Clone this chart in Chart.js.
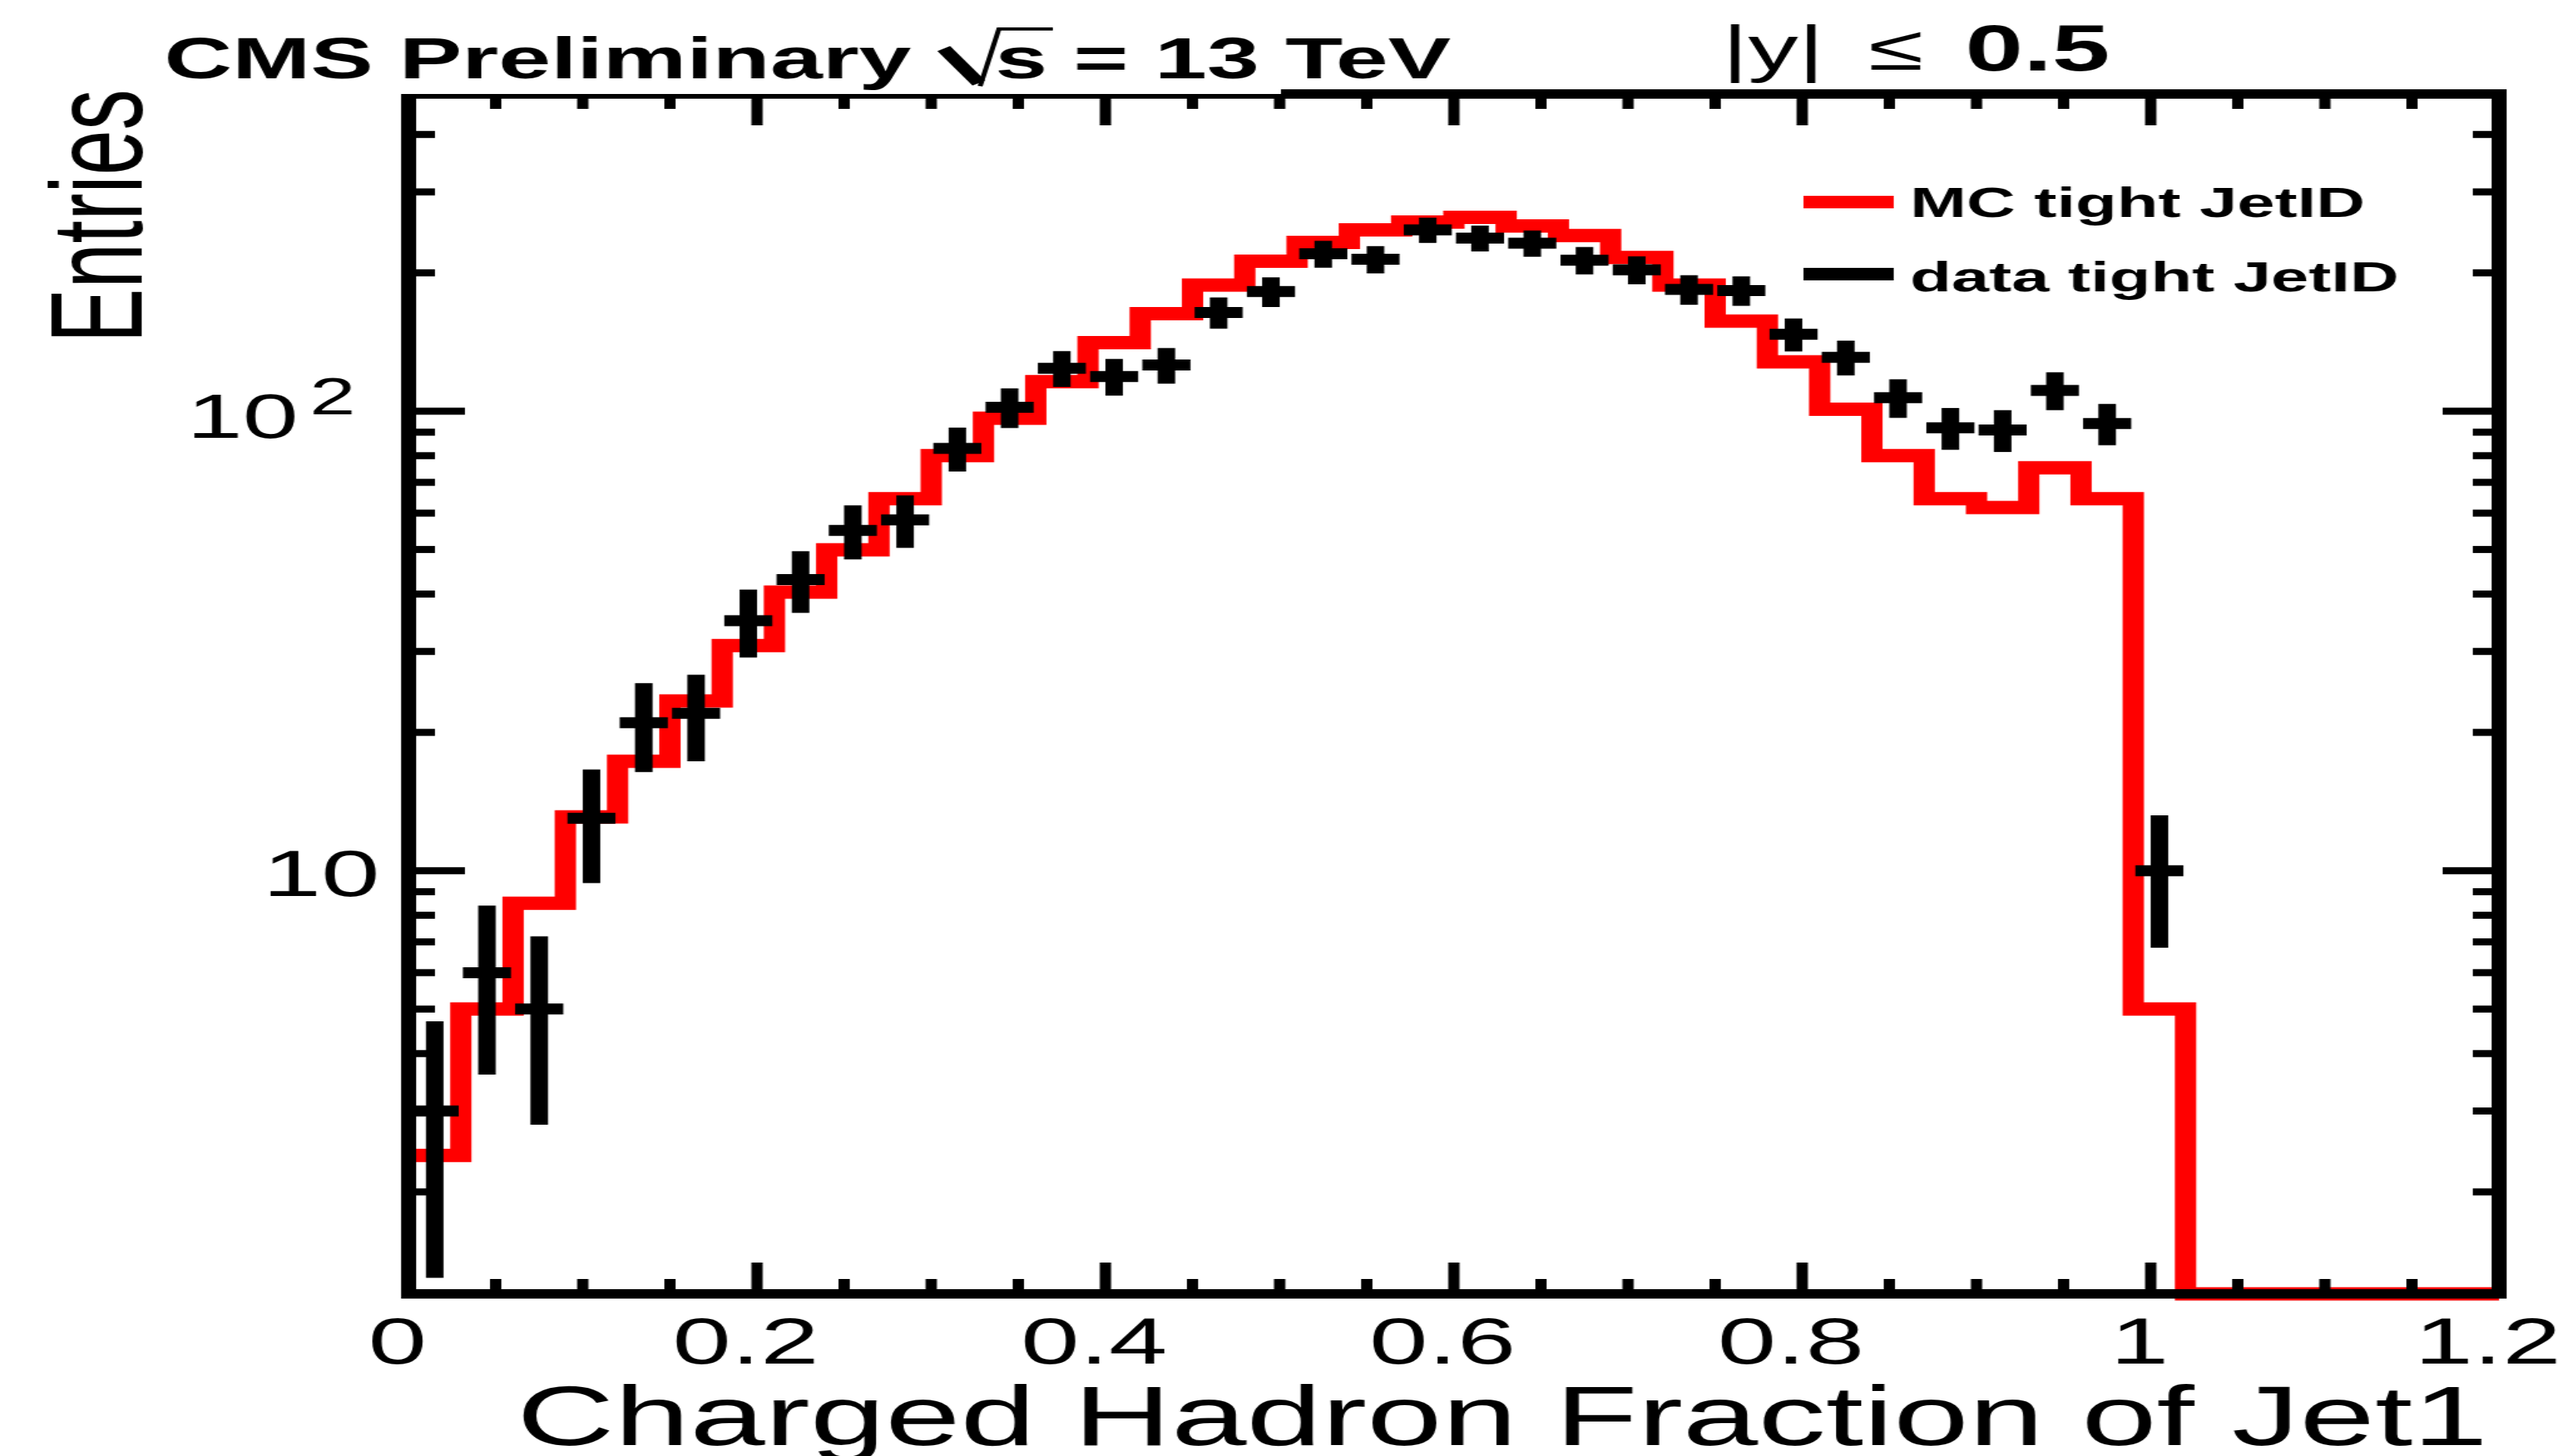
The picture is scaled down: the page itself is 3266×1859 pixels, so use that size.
<!DOCTYPE html>
<html>
<head>
<meta charset="utf-8">
<title>Charged Hadron Fraction of Jet1</title>
<script src="https://cdn.jsdelivr.net/npm/chart.js@4.4.1/dist/chart.umd.min.js"></script>
<style>
  html, body { margin: 0; padding: 0; background: #fff; overflow: hidden; }
  #chf { display: block; }
</style>
</head>
<body>
<!-- drawn at 2041 wide and shown at 3266, so everything comes out stretched sideways -->
<canvas id="chf" width="2041" height="1859" style="width:3266px;height:1859px"></canvas>
<script>
// histogram bins, 0.03 wide from 0 to 1.2
const binCenters = [0.015, 0.045, 0.075, 0.105, 0.135, 0.165, 0.195, 0.225, 0.255, 0.285,
  0.315, 0.345, 0.375, 0.405, 0.435, 0.465, 0.495, 0.525, 0.555, 0.585,
  0.615, 0.645, 0.675, 0.705, 0.735, 0.765, 0.795, 0.825, 0.855, 0.885,
  0.915, 0.945, 0.975, 1.005, 1.035, 1.065, 1.095, 1.125, 1.155, 1.185];
const binWidth = 0.03;

// MC tight JetID (normalised, red histogram)
const mcCounts = [2.4, 5.0, 8.5, 13.1, 17.3, 23.4, 30.9, 40.4, 49.9, 64.5,
  80, 96.5, 116, 141, 163, 188, 212, 233, 248, 258,
  264, 253, 241, 216, 188, 157, 128, 101, 80, 64.5,
  61.7, 75.3, 64.5, 5.0, 0, 0, 0, 0, 0, 0];

// data tight JetID, entries per bin and their statistical errors
const dataCounts = [3, 6, 5, 13, 21, 22, 35, 43, 55, 58,
  83, 102, 124, 119, 126, 164, 182, 220, 214, 248,
  238, 232, 213, 203, 184, 183, 147, 131, 107, 92,
  91, 111, 94, 10, 0, 0, 0, 0, 0, 0];
const dataErrors = [1.7, 2.4, 2.2, 3.6, 4.6, 4.7, 5.9, 6.6, 7.4, 7.6,
  9.1, 10.1, 11.1, 10.9, 11.2, 12.8, 13.5, 14.8, 14.6, 15.7,
  15.4, 15.2, 14.6, 14.2, 13.6, 13.5, 12.1, 11.4, 10.3, 9.6,
  9.5, 10.5, 9.7, 3.2, 0, 0, 0, 0, 0, 0];

// axes
const xMin = 0, xMax = 1.2;
const yMin = 1.2, yMax = 490;
const xMajorTicks = [0, 0.2, 0.4, 0.6, 0.8, 1, 1.2];
const xTickLabels = ['0', '0.2', '0.4', '0.6', '0.8', '1', '1.2'];
const xMinorTicks = [0.05, 0.1, 0.15, 0.25, 0.3, 0.35, 0.45, 0.5, 0.55, 0.65, 0.7, 0.75,
  0.85, 0.9, 0.95, 1.05, 1.1, 1.15];
const yMajorTicks = [10, 100];
const yMinorTicks = [2, 3, 4, 5, 6, 7, 8, 9, 20, 30, 40, 50, 60, 70, 80, 90, 200, 300, 400];

const legendLabels = ['MC tight JetID', 'data tight JetID'];
const FONT = '"Liberation Sans", Arial, Helvetica, sans-serif';

// step histogram: one point per lower bin edge plus the last upper edge,
// empty bins are laid on the bottom of the frame like ROOT does on a log axis
let mcPoints = binCenters.map((c, i) => ({ x: c - binWidth / 2, y: mcCounts[i] > 0 ? mcCounts[i] : yMin }));
mcPoints.push({ x: xMax, y: mcPoints[mcPoints.length - 1].y });

let dataPoints = [];
binCenters.forEach((c, i) => {
  if (dataCounts[i] > 0) dataPoints.push({ x: c, y: dataCounts[i], err: dataErrors[i] });
});

function line(ctx, x1, y1, x2, y2) {
  ctx.beginPath();
  ctx.moveTo(x1, y1);
  ctx.lineTo(x2, y2);
  ctx.stroke();
}

// data crosses: horizontal bar over the bin, vertical bar = error
const errorCrosses = {
  id: 'errorCrosses',
  afterDatasetsDraw(chart) {
    let ctx = chart.ctx, xs = chart.scales.x, ys = chart.scales.y;
    ctx.save();
    ctx.strokeStyle = '#000';
    ctx.lineWidth = 14;
    ctx.lineCap = 'butt';
    chart.data.datasets[1].data.forEach(p => {
      let px = xs.getPixelForValue(p.x);
      let py = ys.getPixelForValue(p.y);
      let half = xs.getPixelForValue(p.x + binWidth * 0.46) - px;
      line(ctx, px - half, py, px + half, py);
      line(ctx, px, ys.getPixelForValue(p.y + p.err), px, ys.getPixelForValue(Math.max(p.y - p.err, yMin)));
    });
    ctx.restore();
  }
};

// ROOT style frame: box, inside ticks on all four sides, labels, titles, legend
const rootFrame = {
  id: 'rootFrame',
  afterDraw(chart) {
    let ctx = chart.ctx, xs = chart.scales.x, ys = chart.scales.y;
    let a = chart.chartArea;
    ctx.save();
    ctx.strokeStyle = '#000';
    ctx.fillStyle = '#000';
    ctx.lineCap = 'butt';

    // ticks
    ctx.lineWidth = 9;
    xMajorTicks.concat(xMinorTicks).forEach(v => {
      let len = xMajorTicks.includes(v) ? 40 : 19;
      let px = xs.getPixelForValue(v);
      line(ctx, px, a.bottom, px, a.bottom - len);
      line(ctx, px, a.top, px, a.top + len);
    });
    yMajorTicks.concat(yMinorTicks).forEach(v => {
      let len = yMajorTicks.includes(v) ? 45 : 21;
      let py = ys.getPixelForValue(v);
      line(ctx, a.left, py, a.left + len, py);
      line(ctx, a.right, py, a.right - len, py);
    });

    // frame
    ctx.lineWidth = 12;
    ctx.lineJoin = 'miter';
    ctx.strokeRect(a.left, a.top, a.right - a.left, a.bottom - a.top);

    // the header box hides the upper half of the top border on the left
    ctx.fillStyle = '#fff';
    ctx.fillRect(0, 0, 1022, a.top);
    ctx.fillStyle = '#000';

    // x tick labels
    ctx.font = '84px ' + FONT;
    ctx.textAlign = 'center';
    ctx.textBaseline = 'alphabetic';
    xMajorTicks.forEach((v, i) => {
      ctx.fillText(xTickLabels[i], xs.getPixelForValue(v) - 9, 1741);
    });

    // y tick labels: 10 and 10^2
    ctx.textAlign = 'right';
    ctx.fillText('10', 303, ys.getPixelForValue(10) + 32);
    let y100 = ys.getPixelForValue(100);
    ctx.font = '80px ' + FONT;
    ctx.fillText('10', 238, y100 + 34);
    ctx.textAlign = 'left';
    ctx.font = '66px ' + FONT;
    ctx.fillText('2', 247, y100 + 4);

    // axis titles
    ctx.font = '108px ' + FONT;
    ctx.textAlign = 'right';
    ctx.fillText('Charged Hadron Fraction of Jet1', 1985, 1845);
    ctx.save();
    ctx.translate(113, 114);
    ctx.rotate(-Math.PI / 2);
    ctx.font = '104px ' + FONT;
    ctx.fillText('Entries', 0, 0);
    ctx.restore();

    // header
    ctx.textAlign = 'left';
    ctx.font = 'bold 75px ' + FONT;
    ctx.fillText('CMS Preliminary', 131, 100);
    ctx.fillText('s = 13 TeV', 794, 100);
    // square root sign over the s
    ctx.lineWidth = 12;
    line(ctx, 753, 62, 781, 106);
    ctx.lineWidth = 4;
    ctx.beginPath();
    ctx.moveTo(782, 110);
    ctx.lineTo(797, 37);
    ctx.lineTo(840, 37);
    ctx.stroke();

    ctx.font = '80px ' + FONT;
    ctx.fillText('|y|', 1374, 89);
    ctx.fillText('\u2264', 1491, 89);
    ctx.font = 'bold 83px ' + FONT;
    ctx.fillText('0.5', 1568, 90);

    // legend
    let legendRows = [
      { color: '#ff0000', lineY: 258, textY: 277 },
      { color: '#000000', lineY: 350, textY: 372 }
    ];
    ctx.font = 'bold 54px ' + FONT;
    legendRows.forEach((r, i) => {
      ctx.strokeStyle = r.color;
      ctx.lineWidth = 16;
      line(ctx, 1439, r.lineY, 1511, r.lineY);
      ctx.fillStyle = '#000';
      ctx.fillText(legendLabels[i], 1524, r.textY);
    });
    ctx.restore();
  }
};

new Chart(document.getElementById('chf'), {
  type: 'scatter',
  data: {
    datasets: [
      {
        type: 'line',
        label: legendLabels[0],
        data: mcPoints,
        showLine: true,
        stepped: 'before',
        borderColor: '#ff0000',
        borderWidth: 17,
        borderJoinStyle: 'miter',
        borderCapStyle: 'butt',
        pointRadius: 0,
        fill: false,
        clip: false
      },
      {
        label: legendLabels[1],
        data: dataPoints,
        pointRadius: 0,
        showLine: false
      }
    ]
  },
  options: {
    responsive: false,
    devicePixelRatio: 1,
    animation: false,
    events: [],
    layout: { padding: { left: 0, right: 47, top: 120, bottom: 0 } },
    plugins: {
      legend: { display: false },
      tooltip: { enabled: false }
    },
    scales: {
      x: {
        type: 'linear',
        min: xMin,
        max: xMax,
        grid: { display: false },
        border: { display: false },
        ticks: { display: false },
        afterFit: s => { s.height = 207; }
      },
      y: {
        type: 'logarithmic',
        min: yMin,
        max: yMax,
        grid: { display: false },
        border: { display: false },
        ticks: { display: false },
        afterFit: s => { s.width = 326; }
      }
    }
  },
  plugins: [errorCrosses, rootFrame]
});
</script>
</body>
</html>
